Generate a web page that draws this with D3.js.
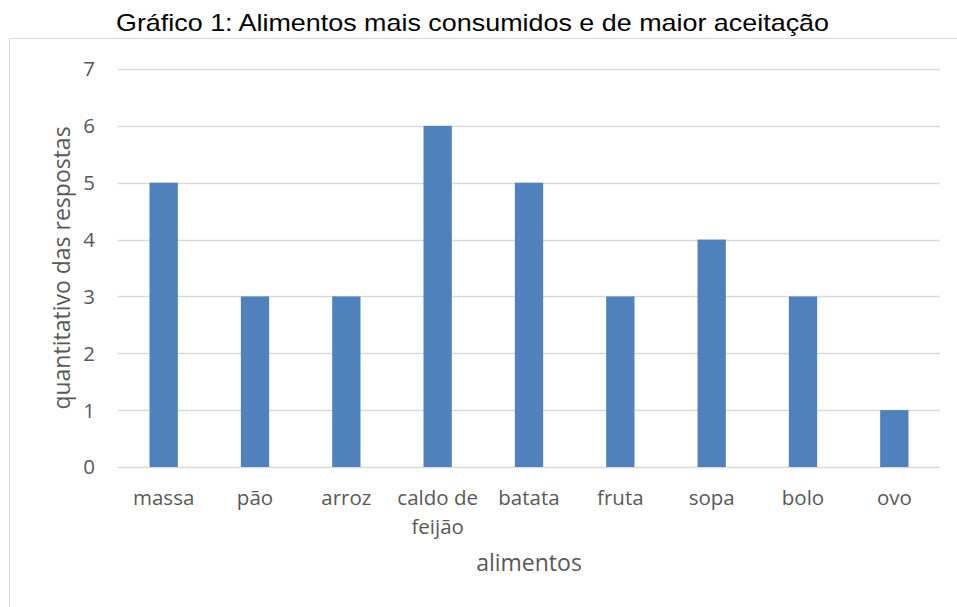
<!DOCTYPE html>
<html>
<head>
<meta charset="utf-8">
<title>Gráfico 1</title>
<script src="https://d3js.org/d3.v7.min.js"></script>
<style>
  body { margin: 0; padding: 0; background: #fff; }
</style>
</head>
<body>
<div id="chart"></div>
<script>
// data
const categories = ["massa", "pão", "arroz", "caldo de feijão", "batata", "fruta", "sopa", "bolo", "ovo"];
const values = [5, 3, 3, 6, 5, 3, 4, 3, 1];
const yTicks = [0, 1, 2, 3, 4, 5, 6, 7];

const width = 957, height = 607;
const plot = { left: 118, right: 940, top: 69, bottom: 467 };
const labelFont = "'Open Sans', sans-serif";

const svg = d3.select("#chart").append("svg")
    .attr("width", width)
    .attr("height", height);

// chart area frame (right/bottom edges fall outside the picture)
svg.append("path")
    .attr("d", `M9.5,${height} L9.5,38.5 L${width},38.5`)
    .attr("fill", "none")
    .attr("stroke", "#d9d9d9")
    .attr("stroke-width", 1);

// title
svg.append("text")
    .attr("x", 116)
    .attr("y", 31)
    .attr("textLength", 713)
    .attr("lengthAdjust", "spacingAndGlyphs")
    .style("font-family", "'Liberation Sans', Arial, sans-serif")
    .style("font-size", "24px")
    .attr("fill", "#000")
    .text("Gráfico 1: Alimentos mais consumidos e de maior aceitação");

const x = d3.scaleBand()
    .domain(categories)
    .range([plot.left, plot.right])
    .paddingInner(0.69)
    .paddingOuter(0.345);

const y = d3.scaleLinear()
    .domain([0, 7])
    .range([plot.bottom, plot.top]);

// gridlines
svg.append("g")
  .selectAll("line")
  .data(yTicks)
  .join("line")
    .attr("x1", plot.left)
    .attr("x2", plot.right)
    .attr("y1", d => Math.round(y(d)) + 0.5)
    .attr("y2", d => Math.round(y(d)) + 0.5)
    .attr("stroke", "#d9d9d9")
    .attr("stroke-width", 1.5);

// y tick labels
svg.append("g")
  .selectAll("text")
  .data(yTicks)
  .join("text")
    .attr("x", 95)
    .attr("y", d => y(d))
    .attr("dy", "0.36em")
    .attr("text-anchor", "end")
    .style("font-family", labelFont)
    .style("font-size", "20.5px")
    .attr("fill", "#595959")
    .text(d => d);

// bars
svg.append("g")
  .selectAll("rect")
  .data(values)
  .join("rect")
    .attr("x", (d, i) => x(categories[i]))
    .attr("y", d => y(d))
    .attr("width", x.bandwidth())
    .attr("height", d => y(0) - y(d))
    .attr("fill", "#4f81bd");

// category labels, wrapped like the original
const catLines = {"caldo de feijão": ["caldo de", "feijão"]};
const xl = svg.append("g")
  .selectAll("text")
  .data(categories)
  .join("text")
    .attr("x", d => x(d) + x.bandwidth() / 2)
    .attr("y", 505)
    .attr("text-anchor", "middle")
    .style("font-family", labelFont)
    .style("font-size", "20.5px")
    .attr("fill", "#595959");
xl.selectAll("tspan")
  .data(d => catLines[d] || [d])
  .join("tspan")
    .attr("x", function() { return d3.select(this.parentNode).attr("x"); })
    .attr("dy", (d, i) => i === 0 ? 0 : 29)
    .text(d => d);

// axis titles
svg.append("text")
    .attr("x", (plot.left + plot.right) / 2)
    .attr("y", 571)
    .attr("text-anchor", "middle")
    .style("font-family", labelFont)
    .style("font-size", "23px")
    .attr("fill", "#595959")
    .text("alimentos");

svg.append("text")
    .attr("transform", `translate(70, ${(plot.top + plot.bottom) / 2}) rotate(-90)`)
    .attr("text-anchor", "middle")
    .style("font-family", labelFont)
    .style("font-size", "23px")
    .attr("fill", "#595959")
    .text("quantitativo das respostas");
</script>
</body>
</html>
